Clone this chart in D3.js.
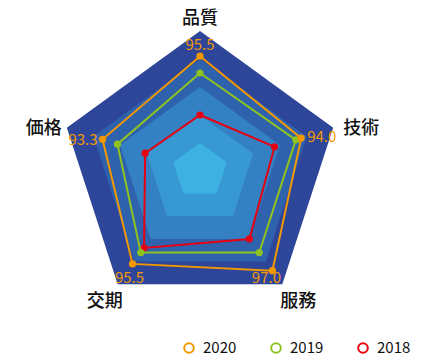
<!DOCTYPE html>
<html><head><meta charset="utf-8">
<script src="https://cdn.jsdelivr.net/npm/d3@7"></script>
<style>html,body{margin:0;padding:0;background:#fff;}svg{display:block;}</style>
</head><body>
<svg id="chart" width="437" height="358"></svg>
<script>
const indicators = ["品質", "技術", "服務", "交期", "価格"];
const series2020 = [95.5, 94.0, 97.0, 95.5, 93.3];
const series2019 = [92.5, 93.0, 93.0, 93.0, 90.5];
const series2018 = [85.0, 89.0, 90.0, 92.0, 85.3];
const seriesNames = ["2020", "2019", "2018"];
const seriesColors = ["#f39800", "#8fc31f", "#e60012"];
const splitLevels = [80, 85, 90, 95, 100];
const bandColors = ["#3db2e2", "#3898d3", "#3380c3", "#2f62ad", "#2d4699"];
const axisMin = 75, axisMax = 100;

const svg = d3.select("#chart");
const font = "'Noto Sans CJK JP','Noto Sans',sans-serif";
const cx = 200, cy = 171, R = 140;
const r = d3.scaleLinear().domain([axisMin, axisMax]).range([0, R]);
const n = indicators.length;
const ang = i => -Math.PI / 2 + i * 2 * Math.PI / n;
const pt = (i, v) => [cx + r(v) * Math.cos(ang(i)), cy + r(v) * Math.sin(ang(i))];

// split areas (draw outer to inner)
const levels = splitLevels.map((v, k) => ({v, c: bandColors[k]})).reverse();
svg.append("g").selectAll("path").data(levels).join("path")
  .attr("d", d => d3.line()(indicators.map((_, i) => pt(i, d.v))) + "Z")
  .attr("fill", d => d.c);

// series
const allSeries = [series2018, series2019, series2020].map((vals, k) => ({vals, color: seriesColors[2 - k]}));
const sg = svg.append("g");
allSeries.forEach(s => {
  sg.append("path")
    .attr("d", d3.line()(s.vals.map((v, i) => pt(i, v))) + "Z")
    .attr("fill", "none").attr("stroke", s.color).attr("stroke-width", 2);
  sg.selectAll(null).data(s.vals).join("circle")
    .attr("cx", (v, i) => pt(i, v)[0]).attr("cy", (v, i) => pt(i, v)[1])
    .attr("r", 3.6).attr("fill", s.color);
});

// value labels for 2020
const labOff = [[0, -11, "middle"], [6, -1, "start"], [-6, 7, "middle"], [-3, 14, "middle"], [-5, 1, "end"]];
svg.append("g").selectAll("text").data(series2020).join("text")
  .attr("x", (v, i) => pt(i, v)[0] + labOff[i][0])
  .attr("y", (v, i) => pt(i, v)[1] + labOff[i][1] + 5)
  .attr("text-anchor", (v, i) => labOff[i][2])
  .attr("font-family", font).attr("font-size", 15).attr("fill", seriesColors[0])
  .text(v => v.toFixed(1));

// indicator names
const nameOff = [[0, -7, "middle"], [10, 6, "start"], [16, 23, "middle"], [-13, 23, "middle"], [-5, 6, "end"]];
svg.append("g").selectAll("text").data(indicators).join("text")
  .attr("x", (d, i) => pt(i, axisMax)[0] + nameOff[i][0])
  .attr("y", (d, i) => pt(i, axisMax)[1] + nameOff[i][1])
  .attr("text-anchor", (d, i) => nameOff[i][2])
  .attr("font-family", font).attr("font-size", 18).attr("font-weight", 500).attr("fill", "#111")
  .text(d => d);

// legend
const legX = [189, 276, 363];
const lg = svg.append("g");
seriesNames.forEach((name, k) => {
  lg.append("circle").attr("cx", legX[k]).attr("cy", 348).attr("r", 4.8)
    .attr("fill", "#fff").attr("stroke", seriesColors[k]).attr("stroke-width", 2);
  lg.append("text").attr("x", legX[k] + 14).attr("y", 353)
    .attr("font-family", font).attr("font-size", 15).attr("fill", "#111").text(name);
});
</script>
</body></html>
